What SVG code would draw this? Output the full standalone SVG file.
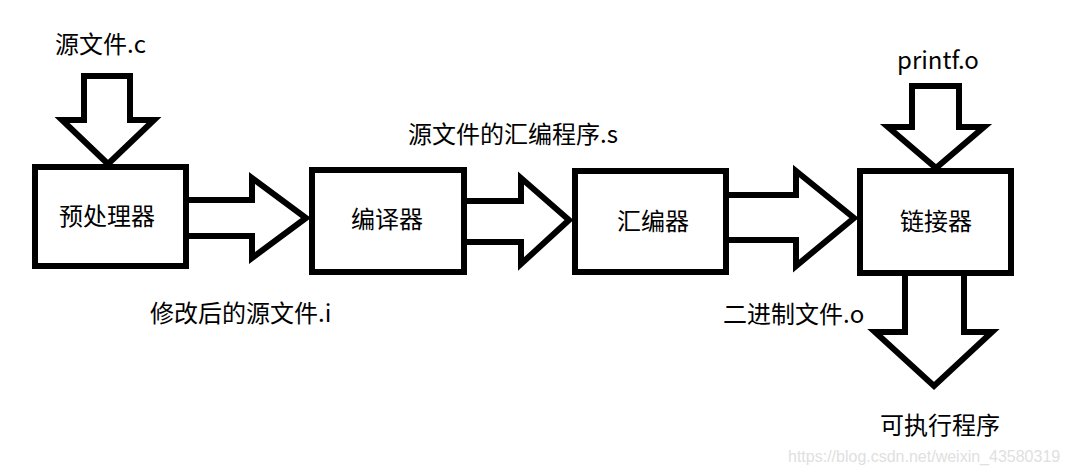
<svg xmlns="http://www.w3.org/2000/svg" width="1069" height="474" viewBox="0 0 1069 474">
<style>
.box{fill:#fff;stroke:#000;stroke-width:6}
.arr{fill:#fff;stroke:#000;stroke-width:6;stroke-linejoin:miter;stroke-miterlimit:10}
text{font-family:"Noto Sans CJK SC","Microsoft YaHei",sans-serif;font-size:24px;fill:#000}
.c{text-anchor:middle}
.wm{font-family:"Liberation Sans",Arial,sans-serif;font-size:16px;fill:#e0e0e0}
</style>
<rect width="1069" height="474" fill="#fff"/>
<g id="connectors">
<path class="arr" d="M84,120 V76 H130 V120 H154 L108,164 L62,120 Z"/>
<path class="arr" d="M912,127 V86 H959 V127 H984 L936,168 L888,127 Z"/>
<path class="arr" d="M186,200 H252 V178 L306,218 L252,258 V236 H186"/>
<path class="arr" d="M464,201 H521 V178 L569,220 L521,264 V242 H464"/>
<path class="arr" d="M726,195 H796 V171 L854,218 L796,266 V240 H726"/>
<path class="arr" d="M905,273 V332 H875 L934,386 L992,332 H964 V273"/>
</g>
<g id="n1"><rect class="box" x="35" y="167" width="151" height="99"/><text class="c" x="107" y="225">预处理器</text></g>
<g id="n2"><rect class="box" x="312" y="170" width="152" height="102"/><text class="c" x="387" y="228">编译器</text></g>
<g id="n3"><rect class="box" x="575" y="171" width="151" height="101"/><text class="c" x="653" y="230">汇编器</text></g>
<g id="n4"><rect class="box" x="860" y="171" width="151" height="102"/><text class="c" x="936" y="230">链接器</text></g>
<g id="labels">
<text x="55" y="53">源文件.c</text>
<text x="897" y="69">printf.o</text>
<text x="408" y="143">源文件的汇编程序.s</text>
<text x="150" y="322">修改后的源文件.i</text>
<text x="723" y="323">二进制文件.o</text>
<text x="880" y="434">可执行程序</text>
<text class="wm" x="788" y="462">https://blog.csdn.net/weixin_43580319</text>
</g>
</svg>
